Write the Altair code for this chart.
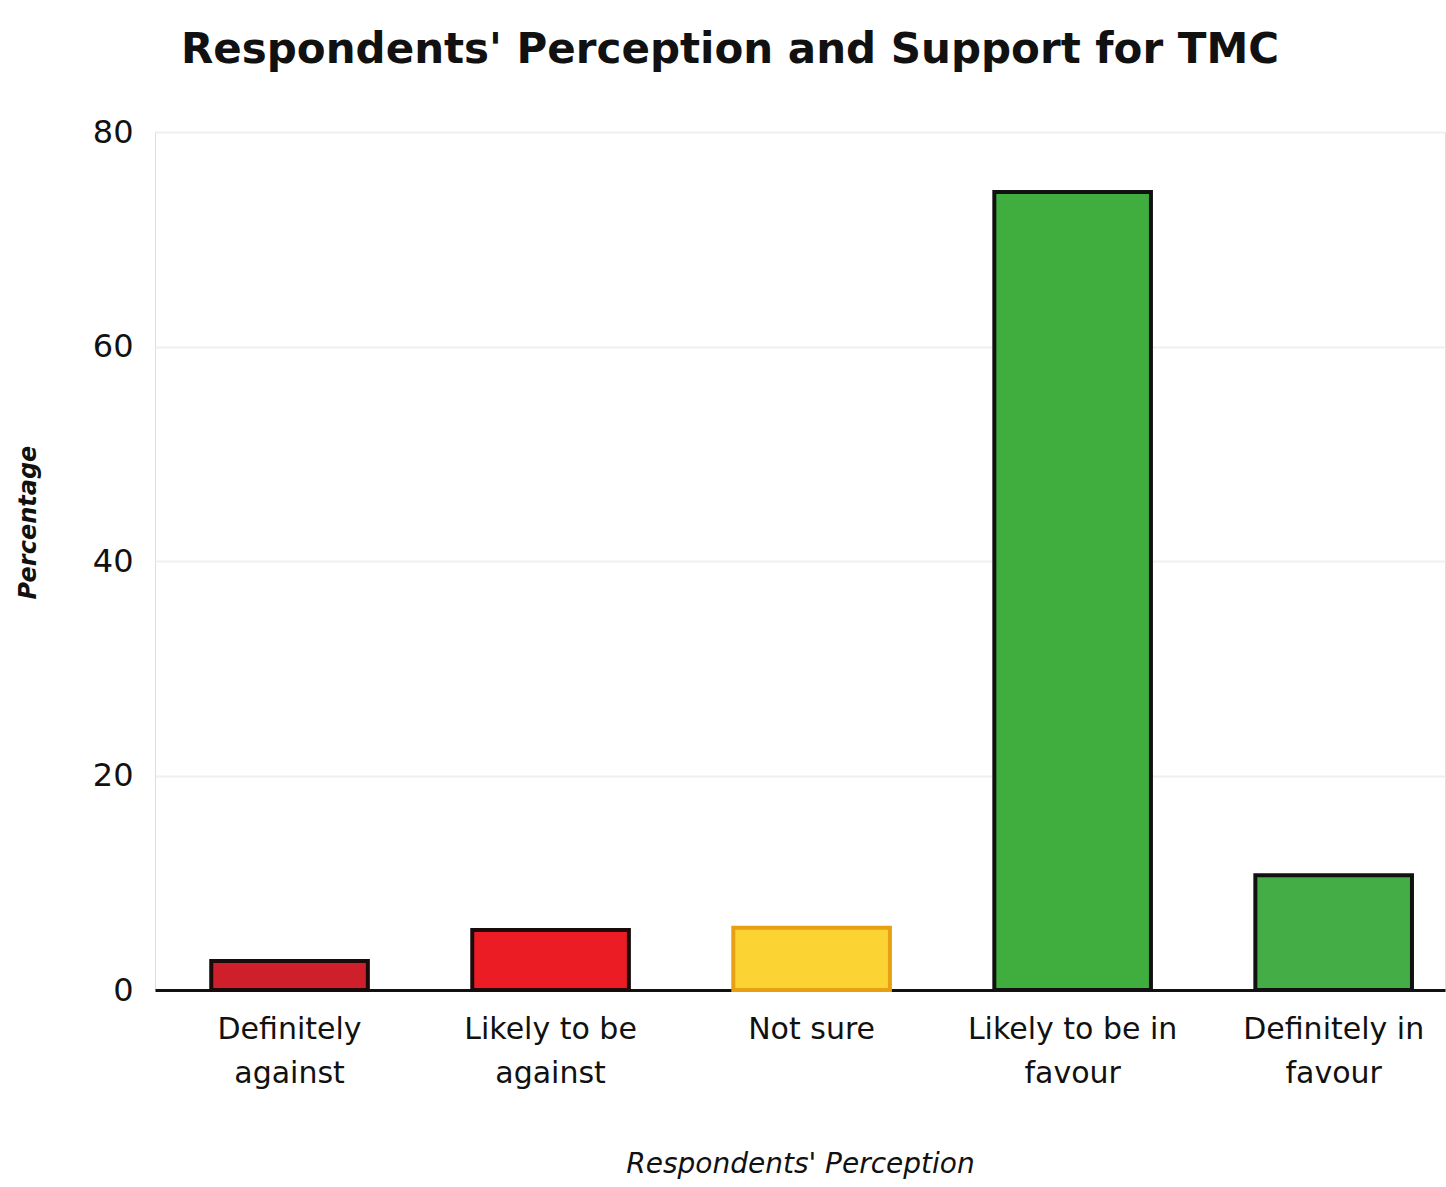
import altair as alt
import pandas as pd

# Survey responses: share of respondents in each perception category
categories = [
    "Definitely\nagainst",
    "Likely to be\nagainst",
    "Not sure",
    "Likely to be in\nfavour",
    "Definitely in\nfavour",
]
percentages = [2.7, 5.6, 5.8, 74.4, 10.7]
fill_colors = ["#cf1f2b", "#ec1c24", "#fbd434", "#3fae3f", "#44ad46"]
stroke_colors = ["#1a0a0a", "#1a0a0a", "#e6a012", "#111111", "#111111"]

df = pd.DataFrame({
    "category": categories,
    "pct": percentages,
    "fill": fill_colors,
    "stroke": stroke_colors,
})

FONT = "DejaVu Sans"

chart = (
    alt.Chart(df)
    .mark_bar(strokeWidth=4)
    .encode(
        x=alt.X(
            "category:N",
            sort=categories,
            scale=alt.Scale(paddingInner=0.4, paddingOuter=0.171, align=0.63),
            axis=alt.Axis(
                title="Respondents' Perception",
                titleFont=FONT,
                titleFontSize=28,
                titleFontStyle="italic",
                titleFontWeight="normal",
                titleColor="#111111",
                titlePadding=62,
                labelExpr="split(datum.label, '\\n')",
                labelFont=FONT,
                labelFontSize=30,
                labelColor="#111111",
                labelAngle=0,
                labelPadding=24,
                labelLineHeight=44,
                labelLimit=400,
                ticks=False,
                domainColor="#111111",
                domainWidth=3,
                grid=False,
            ),
        ),
        y=alt.Y(
            "pct:Q",
            scale=alt.Scale(domain=[0, 80]),
            axis=alt.Axis(
                title="Percentage",
                titleFont=FONT,
                titleFontSize=24,
                titleFontStyle="italic",
                titleFontWeight="bold",
                titleColor="#111111",
                titleX=-115,
                titleY=390,
                values=[0, 20, 40, 60, 80],
                labelFont=FONT,
                labelFontSize=32,
                labelColor="#111111",
                labelPadding=22,
                ticks=False,
                domain=False,
                gridColor="#efefef",
                gridWidth=2,
            ),
        ),
        fill=alt.Fill("fill:N", scale=None),
        stroke=alt.Stroke("stroke:N", scale=None),
    )
    .properties(
        width=1290,
        height=858,
        autosize="none",
        padding={"left": 155, "top": 132, "right": 1, "bottom": 197},
        title=alt.TitleParams(
            "Respondents' Perception and Support for TMC",
            font=FONT,
            fontSize=42,
            fontWeight="bold",
            color="#111111",
            anchor="middle",
            dx=-70,
            offset=44,
        ),
    )
    .configure_view(stroke=None)
    .configure(background="white")
)

chart.save("out.html", embed_options={"renderer": "svg", "actions": False})
